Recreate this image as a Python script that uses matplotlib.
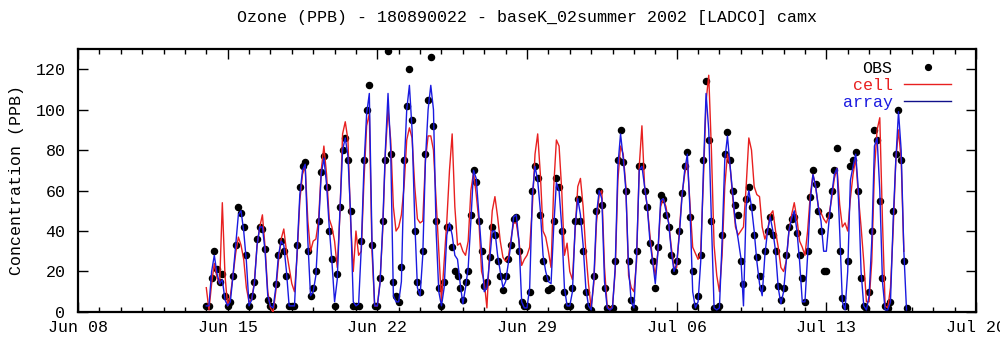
import matplotlib
matplotlib.use("Agg")
import matplotlib.pyplot as plt
import matplotlib.dates as mdates
from matplotlib.lines import Line2D
from datetime import datetime, timedelta

# ---- data: 3-hourly ozone (ppb) starting 2002-06-14 00:00 ----
series_start = datetime(2002, 6, 14)
step_hours = 3

obs = [
    3, 3, 17, 30, 21, 15, 19, 8,
    3, 5, 18, 33, 52, 49, 42, 28,
    3, 8, 15, 36, 42, 41, 31, 6,
    3, 3, 14, 28, 35, 30, 18, 3,
    3, 3, 33, 62, 72, 74, 30, 8,
    12, 20, 45, 69, 77, 62, 40, 26,
    3, 19, 52, 80, 86, 75, 50, 3,
    3, 3, 35, 75, 100, 112, 33, 3,
    3, 17, 45, 75, 129, 78, 15, 8,
    5, 22, 75, 102, 120, 95, 40, 15,
    10, 30, 78, 105, 126, 92, 45, 12,
    3, 15, 42, 42, 32, 20, 18, 12,
    6, 15, 20, 48, 70, 64, 45, 30,
    13, 15, 27, 42, 38, 25, 18, 11,
    18, 26, 33, 46, 47, 30, 5, 3,
    3, 10, 60, 72, 66, 48, 25, 17,
    11, 12, 45, 66, 62, 40, 10, 3,
    3, 12, 45, 56, 45, 30, 10, 3,
    1, 18, 50, 60, 53, 12, 2, 1,
    2, 25, 75, 90, 74, 60, 25, 6,
    2, 30, 72, 72, 60, 52, 34, 25,
    12, 32, 58, 56, 48, 42, 28, 20,
    25, 40, 59, 72, 79, 47, 20, 3,
    8, 28, 75, 114, 85, 45, 2, 1,
    3, 38, 78, 89, 75, 60, 53, 48,
    25, 14, 56, 62, 52, 38, 27, 18,
    12, 30, 40, 47, 38, 30, 13, 6,
    12, 28, 42, 46, 47, 39, 28, 17,
    5, 30, 57, 70, 63, 50, 40, 20,
    20, 48, 60, 70, 81, 30, 7, 3,
    25, 72, 75, 79, 60, 17, 3, 2,
    10, 40, 90, 85, 55, 17, 3, 2,
    5, 50, 78, 100, 75, 25, 2,
]

cell = [
    12, 1, 14, 24, 17, 14, 54, 18,
    3, 8, 18, 29, 37, 33, 26, 12,
    5, 6, 15, 33, 42, 48, 32, 10,
    2, 0, 10, 25, 36, 41, 30, 22,
    14, 10, 28, 55, 68, 72, 45, 30,
    35, 36, 45, 70, 82, 68, 46, 42,
    35, 22, 48, 88, 94, 85, 45, 20,
    40, 28, 30, 65, 92, 98, 30, 3,
    3, 15, 40, 78, 100, 85, 52, 40,
    42, 48, 62, 85, 91, 86, 62, 46,
    44, 45, 75, 87, 87, 80, 55, 30,
    5, 25, 45, 70, 88, 52, 33, 34,
    30, 28, 35, 60, 69, 58, 45, 20,
    15, 2, 30, 50, 57, 47, 35, 27,
    25, 27, 36, 44, 44, 35, 23, 26,
    28, 32, 52, 78, 88, 68, 40, 37,
    30, 22, 62, 85, 82, 60, 28, 34,
    20, 16, 40, 62, 66, 52, 30, 14,
    2, 14, 44, 58, 60, 22, 3, 1,
    3, 20, 65, 82, 78, 62, 18, 12,
    10, 25, 72, 92, 62, 52, 38, 26,
    18, 30, 52, 56, 52, 44, 32, 22,
    22, 40, 58, 68, 75, 53, 32, 29,
    26, 30, 65, 104, 117, 80, 33, 18,
    10, 28, 62, 78, 72, 56, 42, 38,
    40, 42, 62, 86, 80, 62, 58, 57,
    42, 36, 40, 48, 50, 40, 32, 22,
    20, 25, 40, 48, 54, 46, 35, 32,
    28, 40, 58, 68, 62, 52, 49, 46,
    44, 48, 56, 66, 71, 53, 42, 44,
    40, 56, 68, 76, 57, 42, 25, 5,
    5, 25, 70, 90, 96, 45, 3, 2,
    12, 40, 75, 90, 75, 30,
]

array_vals = [
    3, 3, 20, 28, 19, 14, 16, 6,
    3, 5, 18, 33, 48, 50, 40, 25,
    3, 6, 14, 33, 42, 42, 30, 8,
    3, 2, 12, 28, 35, 33, 20, 3,
    3, 3, 30, 58, 70, 73, 35, 8,
    10, 18, 42, 68, 76, 63, 42, 25,
    5, 16, 50, 80, 86, 77, 48, 5,
    3, 4, 32, 72, 98, 108, 35, 3,
    3, 14, 42, 80, 108, 80, 8, 5,
    5, 15, 70, 100, 112, 90, 45, 12,
    8, 28, 75, 100, 112, 100, 40, 10,
    3, 12, 38, 44, 38, 28, 26, 14,
    4, 12, 22, 45, 70, 66, 48, 30,
    10, 12, 25, 40, 40, 28, 20, 12,
    15, 24, 34, 47, 48, 35, 5, 2,
    2, 12, 58, 72, 65, 50, 28, 20,
    15, 14, 42, 64, 60, 42, 12, 3,
    3, 10, 42, 56, 48, 33, 12, 3,
    1, 16, 48, 60, 56, 15, 2, 1,
    2, 22, 72, 88, 76, 60, 22, 5,
    2, 28, 70, 72, 62, 52, 35, 25,
    14, 30, 55, 56, 50, 44, 30, 20,
    24, 38, 57, 70, 78, 50, 10, 2,
    5, 25, 70, 108, 90, 45, 2, 1,
    2, 35, 75, 87, 72, 58, 44, 36,
    27, 3, 52, 60, 52, 40, 25, 14,
    8, 28, 40, 47, 40, 30, 12, 4,
    10, 25, 40, 46, 50, 40, 25, 5,
    5, 28, 55, 68, 62, 52, 45, 30,
    30, 45, 58, 68, 71, 40, 5, 1,
    20, 65, 72, 78, 60, 20, 3, 1,
    8, 35, 82, 86, 60, 15, 1, 1,
    5, 45, 75, 99, 80, 30, 1,
]

series_names = ["OBS", "cell", "array"]
title_text = "Ozone (PPB) - 180890022 - baseK_02summer 2002 [LADCO] camx"
y_label = "Concentration (PPB)"
x_tick_dates = [datetime(2002, 6, 8), datetime(2002, 6, 15), datetime(2002, 6, 22),
                datetime(2002, 6, 29), datetime(2002, 7, 6), datetime(2002, 7, 13),
                datetime(2002, 7, 20)]
y_ticks = [0, 20, 40, 60, 80, 100, 120]


def times(n):
    return [series_start + timedelta(hours=step_hours * i) for i in range(n)]


plt.rcParams["font.family"] = ["Liberation Mono", "DejaVu Sans Mono"]
plt.rcParams["font.size"] = 12

fig = plt.figure(figsize=(10, 3.47), dpi=100)
ax = fig.add_axes([0.078, 0.101, 0.898, 0.758])

ax.plot(times(len(obs)), obs, linestyle="None", marker="o", markersize=4.4,
        color="black", zorder=2)
ax.plot(times(len(cell)), cell, color="#e82020", linewidth=1.0, zorder=3)
ax.plot(times(len(array_vals)), array_vals, color="#1a1ae0", linewidth=1.0, zorder=4)

ax.set_xlim(x_tick_dates[0], x_tick_dates[-1])
ax.set_ylim(0, 130)
ax.set_xticks(x_tick_dates)
ax.xaxis.set_major_formatter(mdates.DateFormatter("%b %d"))
ax.xaxis.set_minor_locator(mdates.DayLocator())
ax.set_yticks(y_ticks)

ax.tick_params(axis="both", which="major", direction="in", length=7, width=1.0,
               top=True, right=True, labelsize=12, colors="black")
ax.tick_params(axis="x", which="minor", direction="in", length=3.5, width=1.0,
               top=True, bottom=True)
ax.tick_params(axis="x", which="major", pad=6)
ax.tick_params(axis="y", which="major", pad=9)
for s in ax.spines.values():
    s.set_linewidth(1.6)

ax.set_ylabel(y_label, fontsize=12, labelpad=8)
ax.text(0.5, 1 + (49 - 18) / 263, title_text, transform=ax.transAxes,
        ha="center", va="center", fontsize=12)

handles = [
    Line2D([], [], linestyle="None", marker="o", markersize=4.2, color="black"),
    Line2D([], [], color="#e82020", linewidth=1.0),
    Line2D([], [], color="#10108a", linewidth=1.0),
]
ax.legend(handles, series_names, loc="upper right", bbox_to_anchor=(0.972, 0.955),
          markerfirst=False, frameon=False, handlelength=2.8, handletextpad=0.7,
          labelspacing=0.12, borderpad=0, borderaxespad=0, numpoints=1,
          labelcolor=["black", "#e82020", "#1a1ae0"], fontsize=12)

fig.savefig("out.png", dpi=100)
